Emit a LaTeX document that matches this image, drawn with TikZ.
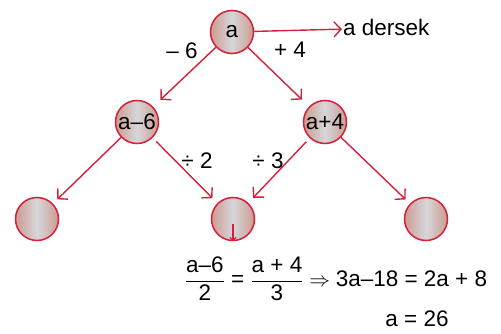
\documentclass[tikz,border=0pt]{standalone}
\usepackage{fontspec}
\usepackage{amsmath}
\setmainfont{Liberation Sans}
\usetikzlibrary{arrows.meta}
\definecolor{cred}{RGB}{214,32,58}
\definecolor{cbrown}{RGB}{204,156,144}
\definecolor{cgray}{RGB}{214,214,218}
\begin{document}
\begin{tikzpicture}[x=1pt,y=-1pt,
  every node/.style={font=\fontsize{22.5}{27}\selectfont},
  ball/.style={circle,draw=cred,line width=1.5pt,minimum size=43pt,inner sep=0pt,
    left color=cbrown,right color=cbrown,middle color=cgray},
  arr/.style={draw=cred,line width=1.4pt,-{Straight Barb[length=7pt,width=15pt]}},
  smallarr/.style={draw=cred,line width=1.2pt,-{Straight Barb[length=3pt,width=6pt]}},
  lbl/.style={inner sep=0pt}]
\useasboundingbox (0,0) rectangle (501,334);
\node[ball] (a) at (232,32) {a};
\node[ball] (am) at (137,122) {a--6};
\node[ball] (ap) at (325,122) {a+4};
\node[ball] (l) at (37,219) {};
\node[ball] (m) at (233,219) {};
\node[ball] (r) at (426,219) {};
\node[lbl,anchor=base west] (t) at (343,36) {a dersek};
\draw[arr,shorten >=1pt] (a) -- (t);
\draw[arr,shorten >=10pt] (a) -- (am);
\draw[arr,shorten >=10pt] (a) -- (ap);
\draw[arr,shorten >=6pt] (am) -- (l);
\draw[arr,shorten >=7pt,shorten <=5pt] (am) -- (m);
\draw[arr,shorten >=7pt,shorten <=5pt] (ap) -- (m);
\draw[arr,shorten >=6pt] (ap) -- (r);
\draw[smallarr,shorten <=5pt] (m.center) -- (m.south);
\node[lbl] (l1) at (182,51) {-- 6};
\node[lbl] (l2) at (290,50) {+ 4};
\node[lbl] (l3) at (197,161) {÷ 2};
\node[lbl] (l4) at (268,161) {÷ 3};
\node[lbl] (eq) at (336,279) {$\dfrac{\text{a--6}}{\text{2}} \text{ = } \dfrac{\text{a + 4}}{\text{3}} \Rightarrow \text{3a--18 = 2a + 8}$};
\node[lbl] (res) at (417,319) {a = 26};
\end{tikzpicture}
\end{document}
